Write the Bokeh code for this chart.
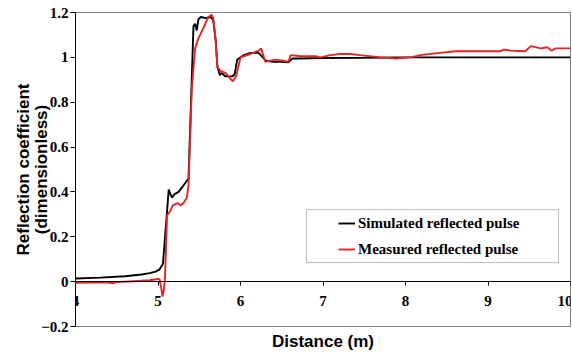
from bokeh.plotting import figure
from bokeh.models import (LinearAxis, FixedTicker, Legend, LegendItem, BoxAnnotation)
from bokeh.embed import file_html
from bokeh.resources import INLINE

# ---- data ----
sim_distance = [4.0, 4.3, 4.6, 4.8, 4.9, 4.97, 5.02, 5.06, 5.09, 5.13, 5.15, 5.17, 5.2, 5.25,
                5.31, 5.35, 5.37, 5.4, 5.43, 5.45, 5.47, 5.49, 5.52, 5.58, 5.64, 5.67, 5.7,
                5.72, 5.75, 5.77, 5.82, 5.9, 5.93, 5.96, 6.0, 6.04, 6.12, 6.22, 6.27, 6.31,
                6.4, 6.48, 6.58, 6.63, 6.72, 7.0, 7.5, 8.0, 8.5, 9.0, 9.5, 10.0]
sim_reflection = [0.014, 0.018, 0.024, 0.032, 0.038, 0.045, 0.055, 0.08, 0.22, 0.41, 0.39,
                  0.375, 0.39, 0.40, 0.43, 0.45, 0.46, 0.8, 1.14, 1.15, 1.12, 1.17, 1.18,
                  1.175, 1.18, 1.165, 1.075, 0.96, 0.92, 0.93, 0.915, 0.915, 0.925, 0.99,
                  1.0, 1.01, 1.02, 1.02, 1.0, 0.985, 0.98, 0.98, 0.978, 0.995, 0.995, 0.997,
                  0.998, 1.0, 1.0, 1.0, 1.0, 1.0]

meas_distance = [4.0, 4.2, 4.4, 4.45, 4.5, 4.7, 4.9, 5.0, 5.02, 5.04, 5.055, 5.07, 5.085,
                 5.11, 5.14, 5.18, 5.24, 5.27, 5.31, 5.35, 5.37, 5.41, 5.45, 5.49, 5.55,
                 5.61, 5.65, 5.67, 5.7, 5.72, 5.76, 5.82, 5.89, 5.91, 5.95, 6.0, 6.04, 6.12,
                 6.22, 6.25, 6.3, 6.42, 6.52, 6.58, 6.61, 6.73, 6.91, 6.97, 7.09, 7.21, 7.33,
                 7.45, 7.7, 7.88, 8.06, 8.18, 8.42, 8.6, 9.15, 9.19, 9.27, 9.45, 9.52, 9.64,
                 9.72, 9.77, 9.82, 10.0]
meas_reflection = [-0.005, -0.004, -0.003, -0.007, -0.002, 0.002, 0.006, 0.012, 0.01, -0.03,
                   -0.067, -0.04, 0.02, 0.295, 0.31, 0.34, 0.35, 0.34, 0.35, 0.375, 0.43,
                   0.86, 1.04, 1.085, 1.13, 1.18, 1.19, 1.175, 1.07, 0.955, 0.94, 0.93, 0.9,
                   0.893, 0.92, 1.0, 1.005, 1.015, 1.03, 1.04, 0.98, 0.99, 0.985, 0.98, 1.01,
                   1.005, 1.005, 1.0, 1.01, 1.015, 1.015, 1.01, 1.0, 0.995, 1.0, 1.01, 1.02,
                   1.027, 1.027, 1.035, 1.03, 1.027, 1.05, 1.04, 1.045, 1.03, 1.04, 1.04]

x_ticks = [4, 5, 6, 7, 8, 9, 10]
x_tick_labels = ["4", "5", "6", "7", "8", "9", "10"]
y_ticks = [-0.2, 0, 0.2, 0.4, 0.6, 0.8, 1, 1.2]
y_tick_labels = ["-0.2", "0", "0.2", "0.4", "0.6", "0.8", "1", "1.2"]

series_names = ["Simulated reflected pulse", "Measured reflected pulse"]
series_colors = ["#000000", "#e82323"]

# ---- figure ----
p = figure(width=572, height=353, x_range=(4, 10), y_range=(-0.2, 1.2),
           output_backend="svg", toolbar_location=None,
           min_border_left=75, min_border_right=2, min_border_top=12, min_border_bottom=27)
p.xgrid.visible = False
p.ygrid.visible = False
p.outline_line_color = "#808080"
p.outline_line_width = 1
p.background_fill_color = "white"
p.border_fill_color = "white"

def key(t):
    return str(int(t)) if float(t).is_integer() else str(t)

serif = "Liberation Serif"
sans = "Liberation Sans"

# x axis crossing at y = 0
xa = p.xaxis[0]
xa.fixed_location = 0
xa.ticker = FixedTicker(ticks=x_ticks)
xa.major_label_overrides = {key(t): l for t, l in zip(x_ticks, x_tick_labels)}
xa.minor_tick_line_color = None
xa.major_tick_in = 0
xa.major_tick_out = 4
xa.major_label_standoff = 10
xa.axis_line_color = "#000000"
xa.major_tick_line_color = "#000000"
xa.major_label_text_font = serif
xa.major_label_text_font_style = "bold"
xa.major_label_text_font_size = "15px"
xa.major_label_text_color = "#000000"

# separate bottom axis only for the title
xl = LinearAxis(ticker=FixedTicker(ticks=[]), axis_label="Distance (m)",
                axis_line_color=None, major_tick_line_color=None,
                minor_tick_line_color=None, axis_label_standoff=5,
                axis_label_text_font=sans, axis_label_text_font_style="bold",
                axis_label_text_font_size="17px", axis_label_text_color="#000000")
p.add_layout(xl, "below")

ya = p.yaxis[0]
ya.ticker = FixedTicker(ticks=y_ticks)
ya.major_label_overrides = {key(t): l for t, l in zip(y_ticks, y_tick_labels)}
ya.minor_tick_line_color = None
ya.major_tick_in = 0
ya.major_tick_out = 5
ya.major_label_standoff = 2
ya.axis_line_color = "#000000"
ya.major_tick_line_color = "#000000"
ya.major_label_text_font = serif
ya.major_label_text_font_style = "bold"
ya.major_label_text_font_size = "15px"
ya.major_label_text_color = "#000000"
ya.axis_label = "Reflection coefficient\n(dimensionless)"
ya.axis_label_standoff = -13
ya.axis_label_text_font = sans
ya.axis_label_text_font_style = "bold"
ya.axis_label_text_font_size = "17px"
ya.axis_label_text_line_height = 0.95
ya.axis_label_text_color = "#000000"

r_sim = p.line(sim_distance, sim_reflection, line_color=series_colors[0], line_width=1.9)
r_meas = p.line(meas_distance, meas_reflection, line_color=series_colors[1], line_width=1.9)

# legend frame
p.add_layout(BoxAnnotation(left=6.8, right=9.855, bottom=0.085, top=0.321,
                           fill_alpha=0, line_color="#222222", line_width=1))

legend = Legend(items=[LegendItem(label=series_names[0], renderers=[r_sim]),
                       LegendItem(label=series_names[1], renderers=[r_meas])],
                location=(263, 68), padding=0, border_line_color=None,
                background_fill_alpha=0, glyph_width=17, glyph_height=18,
                label_height=18, label_standoff=3, spacing=8,
                label_text_font=serif, label_text_font_style="bold",
                label_text_font_size="15px", label_text_color="#000000")
p.add_layout(legend, "center")

open("out.html", "w").write(file_html(p, INLINE))
